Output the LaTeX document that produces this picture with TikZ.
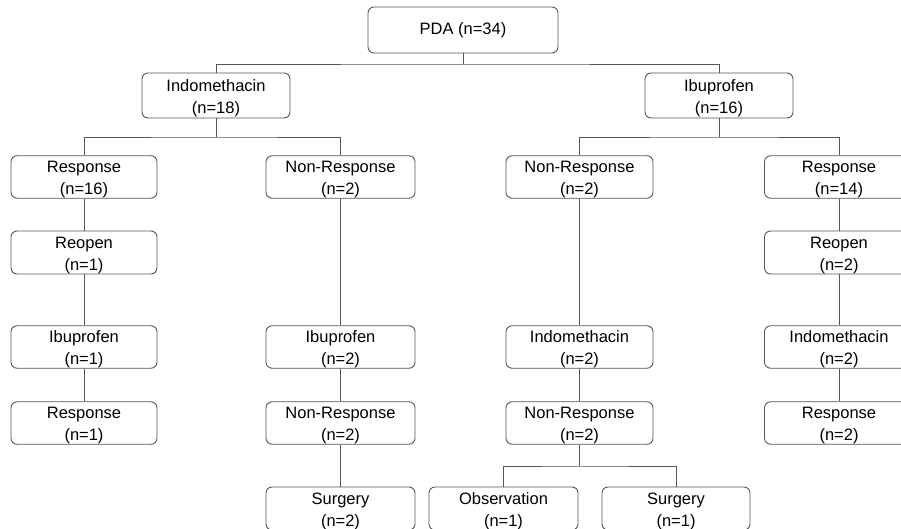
\documentclass[tikz,border=0pt]{standalone}
\usepackage{fontspec}
\setmainfont{Liberation Sans}
\definecolor{linegray}{RGB}{85,85,85}
\newcommand{\toppad}{\rule{0pt}{17pt}}
\begin{document}
\begin{tikzpicture}[x=1pt,y=-1pt,
  box/.style={draw=linegray, line width=0.9pt, rounded corners=6pt, minimum width=148pt, minimum height=43pt, inner sep=0pt, align=center, font=\fontsize{16.5}{22}\selectfont, text=black},
  conn/.style={draw=linegray, line width=0.9pt}]
\useasboundingbox (0,0) rectangle (901,529);
\clip (0,0) rectangle (901,529);
\fill[white] (0,0) rectangle (901,529);
% row 0
\node[box, minimum width=190pt, minimum height=46pt] (pda) at (463,30) {PDA (n=34)};
% row 1
\node[box, minimum height=45pt] (indoA) at (216,95.5) {\toppad Indomethacin\\(n=18)};
\node[box, minimum height=45pt] (ibuA) at (719,95.5) {\toppad Ibuprofen\\(n=16)};
% row 2
\node[box, minimum width=146pt, minimum height=42pt] (respL) at (84,177) {\toppad Response\\(n=16)};
\node[box, minimum width=149pt, minimum height=42pt] (nrL) at (340.5,177) {\toppad Non-Response\\(n=2)};
\node[box, minimum width=147pt, minimum height=42pt] (nrR) at (579.5,177) {\toppad Non-Response\\(n=2)};
\node[box, minimum width=149pt, minimum height=42pt] (respR) at (839,177) {\toppad Response\\(n=14)};
% row 3
\node[box, minimum width=146pt] (reopL) at (84,252.5) {\toppad Reopen\\(n=1)};
\node[box, minimum width=149pt] (reopR) at (839,252.5) {\toppad Reopen\\(n=2)};
% row 4
\node[box, minimum width=146pt, minimum height=42pt] (ibuL) at (84,347) {\toppad Ibuprofen\\(n=1)};
\node[box, minimum width=149pt, minimum height=42pt] (ibuM) at (340.5,347) {\toppad Ibuprofen\\(n=2)};
\node[box, minimum width=147pt, minimum height=42pt] (indoM) at (579.5,347) {\toppad Indomethacin\\(n=2)};
\node[box, minimum width=149pt, minimum height=42pt] (indoR) at (839,347) {\toppad Indomethacin\\(n=2)};
% row 5
\node[box, minimum width=146pt, minimum height=42pt] (respL2) at (84,423) {\toppad Response\\(n=1)};
\node[box, minimum width=149pt, minimum height=42pt] (nrM) at (340.5,423) {\toppad Non-Response\\(n=2)};
\node[box, minimum width=147pt, minimum height=42pt] (nrM2) at (579.5,423) {\toppad Non-Response\\(n=2)};
\node[box, minimum width=149pt, minimum height=42pt] (respR2) at (839,423) {\toppad Response\\(n=2)};
% row 6
\node[box, minimum width=149pt] (surgL) at (340.5,508.5) {\toppad Surgery\\(n=2)};
\node[box, minimum width=149pt] (obs) at (503.5,508.5) {\toppad Observation\\(n=1)};
\node[box, minimum width=148pt] (surgR) at (676,508.5) {\toppad Surgery\\(n=1)};
% junctions
\coordinate (j0) at (463,64);
\coordinate (j1) at (216,137);
\coordinate (j2) at (719,137);
\coordinate (j3) at (579.5,466);
% connectors
\draw[conn] (pda.south) -- (j0);
\draw[conn] (indoA.north) |- (j0) -| (ibuA.north);
\draw[conn] (indoA.south) -- (j1);
\draw[conn] (respL.north) |- (j1) -| (nrL.north);
\draw[conn] (ibuA.south) -- (j2);
\draw[conn] (nrR.north) |- (j2) -| (respR.north);
\draw[conn] (respL.south) -- (reopL.north);
\draw[conn] (reopL.south) -- (ibuL.north);
\draw[conn] (ibuL.south) -- (respL2.north);
\draw[conn] (nrL.south) -- (ibuM.north);
\draw[conn] (ibuM.south) -- (nrM.north);
\draw[conn] (nrM.south) -- (surgL.north);
\draw[conn] (nrR.south) -- (indoM.north);
\draw[conn] (indoM.south) -- (nrM2.north);
\draw[conn] (nrM2.south) -- (j3);
\draw[conn] (obs.north) |- (j3) -| (surgR.north);
\draw[conn] (respR.south) -- (reopR.north);
\draw[conn] (reopR.south) -- (indoR.north);
\draw[conn] (indoR.south) -- (respR2.north);
\end{tikzpicture}
\end{document}
